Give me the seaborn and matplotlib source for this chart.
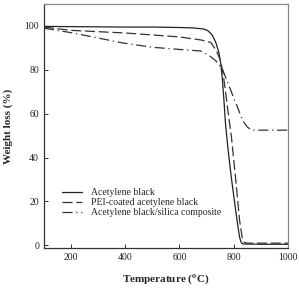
import matplotlib
matplotlib.use("Agg")
import matplotlib.pyplot as plt
import seaborn as sns
import pandas as pd

series_names = ["Acetylene black", "PEI-coated acetylene black", "Acetylene black/silica composite"]

t_ab = [100, 200, 300, 400, 500, 600, 650, 690, 705, 720, 733, 745, 752, 758, 764, 770, 778, 790, 805, 815, 822, 828, 835, 900, 1000]
w_ab = [99.8, 99.7, 99.6, 99.5, 99.5, 99.3, 99.1, 98.6, 97.8, 96.0, 92.8, 88, 83, 76, 66, 55, 45, 32, 18, 9, 3.5, 1.2, 0.6, 0.5, 0.5]

t_pei = [100, 200, 400, 600, 680, 715, 735, 752, 760, 770, 780, 791, 805, 822, 832, 840, 850, 1000]
w_pei = [99.5, 98.0, 96.8, 95.0, 93.6, 92.5, 89, 84, 79, 70, 60, 50, 33, 11, 3, 1.2, 1.0, 1.0]

t_si = [100, 207, 393, 500, 600, 678, 710, 735, 758, 775, 789, 800, 814, 826, 838, 850, 862, 875, 1000]
w_si = [99.0, 96.8, 92.2, 90.3, 89.3, 88.6, 86.5, 84, 80.5, 75, 70.8, 67, 63, 59, 56, 54, 52.8, 52.5, 52.5]

xticks = [200, 400, 600, 800, 1000]
yticks = [0, 20, 40, 60, 80, 100]

rows = []
for name, ts, ws in zip(series_names, [t_ab, t_pei, t_si], [w_ab, w_pei, w_si]):
    for t, w in zip(ts, ws):
        rows.append({"Temperature": t, "Weight": w, "Sample": name})
df = pd.DataFrame(rows)

sns.set_style("ticks")
plt.rcParams["font.family"] = ["Liberation Serif", "DejaVu Serif"]
plt.rcParams["mathtext.fontset"] = "stix"
plt.rcParams["xtick.direction"] = "in"
plt.rcParams["ytick.direction"] = "in"

fig = plt.figure(figsize=(2.99, 2.88), dpi=100)
ax = fig.add_axes([0.147, 0.139, 0.816, 0.847])

sns.lineplot(data=df, x="Temperature", y="Weight", hue="Sample", style="Sample",
             hue_order=series_names, style_order=series_names,
             palette=["#222222", "#333333", "#333333"],
             dashes=[(None, None), (8, 3), (8, 3, 1, 3)],
             linewidth=0.9, ax=ax, sort=False)

ax.set_xlim(100, 1000)
ax.set_ylim(-1.2, 110)
ax.set_xticks(xticks)
ax.set_yticks(yticks)
ax.tick_params(labelsize=7, length=3, width=0.7, colors="#333333", labelcolor="#222222")
for s in ax.spines.values():
    s.set_visible(True)
    s.set_linewidth(0.9)
    s.set_color("#333333")
ax.spines["top"].set_color("#888888")
ax.spines["right"].set_color("#888888")

ax.set_xlabel("Temperature ($^{\\mathbf{o}}$C)", fontsize=8, fontweight="bold", labelpad=8)
ax.set_ylabel("Weight loss (%)", fontsize=8, fontweight="bold", labelpad=8)

leg = ax.legend(loc="lower left", bbox_to_anchor=(0.04, 0.09), frameon=False, fontsize=7,
                handlelength=2.0, handletextpad=0.9, labelspacing=0.12, title=None)

fig.savefig("out.png", dpi=100)
